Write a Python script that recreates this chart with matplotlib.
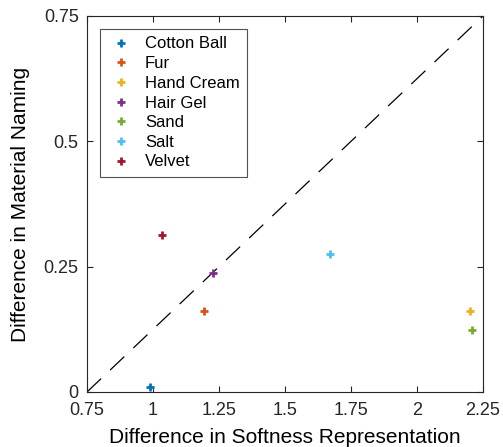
import matplotlib
matplotlib.use('Agg')
import matplotlib.pyplot as plt

plt.rcParams['font.family'] = ['Liberation Sans', 'DejaVu Sans']
plt.rcParams['lines.scale_dashes'] = False

materials = ['Cotton Ball', 'Fur', 'Hand Cream', 'Hair Gel', 'Sand', 'Salt', 'Velvet']
softness_diff = [0.99, 1.193, 2.20, 1.228, 2.207, 1.67, 1.035]
naming_diff = [0.01, 0.162, 0.162, 0.237, 0.124, 0.275, 0.313]
colors = ['#0072bd', '#d95319', '#edb120', '#7e2f8e', '#77ac30', '#4dbeee', '#a2142f']

xticks = [0.75, 1, 1.25, 1.5, 1.75, 2, 2.25]
xticklabels = ['0.75', '1', '1.25', '1.5', '1.75', '2', '2.25']
yticks = [0, 0.25, 0.5, 0.75]
yticklabels = ['0', '0.25', '0.5', '0.75']

fig = plt.figure(figsize=(5.03, 4.47), dpi=100)
ax = fig.add_axes([87 / 503, 1 - 392 / 447, (483 - 87) / 503, (392 - 16) / 447])

ax.plot([0.75, 2.25], [0, 0.75], color='black', linewidth=0.9, dashes=(14, 9))
for name, x, y, c in zip(materials, softness_diff, naming_diff, colors):
    ax.plot(x, y, linestyle='none', marker='+', markersize=6, markeredgewidth=2,
            color=c, label=name)

ax.set_xlim(0.75, 2.25)
ax.set_ylim(0, 0.75)
ax.set_xticks(xticks)
ax.set_xticklabels(xticklabels)
ax.set_yticks(yticks)
ax.set_yticklabels(yticklabels)
gray = '#262626'
ax.tick_params(direction='in', top=True, right=True, length=4, width=0.8,
               labelsize=13, colors=gray)
ax.tick_params(axis='x', pad=7.5)
ax.tick_params(axis='y', pad=6)
for s in ax.spines.values():
    s.set_color(gray)
    s.set_linewidth(0.8)
ax.set_xlabel('Difference in Softness Representation', fontsize=15, color='black', labelpad=6.5)
ax.set_ylabel('Difference in Material Naming', fontsize=15, color='black', labelpad=10)

leg = ax.legend(loc='upper left', bbox_to_anchor=(13 / 396, 1 - 13 / 376),
                frameon=True, fancybox=False, fontsize=12, handlelength=1.6,
                handletextpad=0.65, borderpad=0.45, labelspacing=0.28, borderaxespad=0)
leg.get_frame().set_edgecolor(gray)
leg.get_frame().set_linewidth(0.8)

plt.savefig('out.png', dpi=100)
